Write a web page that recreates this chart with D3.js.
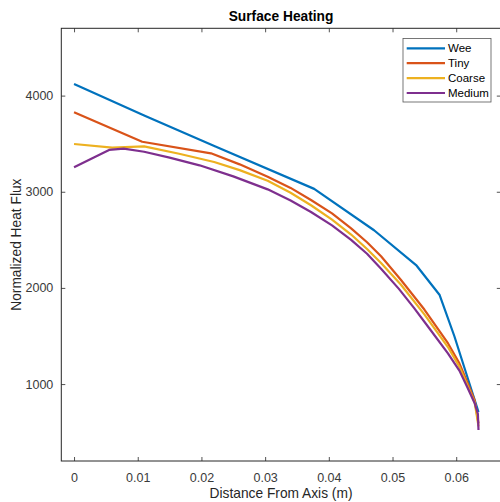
<!DOCTYPE html>
<html>
<head>
<meta charset="utf-8">
<script src="https://cdn.jsdelivr.net/npm/d3@7"></script>
<style>
  html, body { margin: 0; padding: 0; background: #fff; }
  svg { display: block; font-family: "Liberation Sans", Arial, Helvetica, sans-serif; }
</style>
</head>
<body>
<svg id="chart" width="500" height="502"></svg>
<script>
// ---- data ----
const seriesNames = ["Wee", "Tiny", "Coarse", "Medium"];
const seriesColors = ["#0072BD", "#D95319", "#EDB120", "#7E2F8E"];

const weeX = [0, 0.0111, 0.0222, 0.0377, 0.0471, 0.0537, 0.0574, 0.0597, 0.0635];
const weeY = [4120, 3790, 3470, 3030, 2600, 2238, 1926, 1500, 710];

const tinyX = [0, 0.0107, 0.0215, 0.026, 0.0304, 0.034, 0.0372, 0.0405, 0.0435, 0.046, 0.0482, 0.0513, 0.055, 0.0587, 0.0605, 0.0618, 0.0629, 0.0635];
const tinyY = [3826, 3520, 3400, 3285, 3157, 3040, 2914, 2775, 2620, 2475, 2330, 2085, 1775, 1425, 1215, 1010, 830, 590];

const coarseX = [0, 0.006, 0.011, 0.0165, 0.022, 0.026, 0.0304, 0.034, 0.0372, 0.0405, 0.0435, 0.046, 0.0482, 0.0513, 0.055, 0.0587, 0.0605, 0.0618, 0.0629, 0.0635];
const coarseY = [3497, 3460, 3472, 3395, 3310, 3225, 3115, 2990, 2860, 2710, 2555, 2405, 2260, 2035, 1725, 1385, 1180, 980, 810, 560];

const mediumX = [0, 0.0055, 0.0078, 0.011, 0.015, 0.0197, 0.025, 0.0304, 0.034, 0.0372, 0.0405, 0.0435, 0.046, 0.0482, 0.051, 0.0534, 0.056, 0.0587, 0.0605, 0.0618, 0.0629, 0.0634, 0.0635];
const mediumY = [3254, 3435, 3448, 3416, 3355, 3275, 3160, 3025, 2910, 2790, 2650, 2500, 2355, 2200, 1990, 1790, 1560, 1320, 1140, 960, 800, 690, 522];

const xTicks = [0, 0.01, 0.02, 0.03, 0.04, 0.05, 0.06];
const xTickLabels = ["0", "0.01", "0.02", "0.03", "0.04", "0.05", "0.06"];
const yTicks = [1000, 2000, 3000, 4000];
const yTickLabels = ["1000", "2000", "3000", "4000"];

const titleText = "Surface Heating";
const xLabelText = "Distance From Axis (m)";
const yLabelText = "Normalized Heat Flux";

// ---- layout ----
const svg = d3.select("#chart");
const L = 61.3, R = 500.8, T = 28.3, B = 461;
const axisColor = "#262626";
const tickLen = 4;

const x = d3.scaleLinear().domain([-0.002, 0.067]).range([L, R]);
const y = d3.scaleLinear().domain([200, 4700]).range([B, T]);

const series = [
  { name: seriesNames[0], xs: weeX, ys: weeY, color: seriesColors[0] },
  { name: seriesNames[1], xs: tinyX, ys: tinyY, color: seriesColors[1] },
  { name: seriesNames[2], xs: coarseX, ys: coarseY, color: seriesColors[2] },
  { name: seriesNames[3], xs: mediumX, ys: mediumY, color: seriesColors[3] }
];

// lines
const line = d3.line().x(d => x(d[0])).y(d => y(d[1]));
const plotG = svg.append("g");
series.forEach(s => {
  const pts = s.xs.map((v, i) => [v, s.ys[i]]);
  plotG.append("path")
    .attr("d", line(pts))
    .attr("fill", "none")
    .attr("stroke", s.color)
    .attr("stroke-width", 2.2)
    .attr("stroke-linejoin", "round");
});

// axes (box with inward ticks on all four sides)
const fmtX = d => xTickLabels[xTicks.indexOf(d)];
const fmtY = d => yTickLabels[yTicks.indexOf(d)];

const xAxisB = d3.axisBottom(x).tickValues(xTicks).tickFormat(fmtX).tickSizeInner(-tickLen).tickSizeOuter(0).tickPadding(12);
const xAxisT = d3.axisTop(x).tickValues(xTicks).tickFormat("").tickSizeInner(-tickLen).tickSizeOuter(0);
const yAxisL = d3.axisLeft(y).tickValues(yTicks).tickFormat(fmtY).tickSizeInner(-tickLen).tickSizeOuter(0).tickPadding(8);
const yAxisR = d3.axisRight(y).tickValues(yTicks).tickFormat("").tickSizeInner(-tickLen).tickSizeOuter(0);

function style(g) {
  g.select(".domain").remove();
  g.selectAll(".tick line").attr("stroke", axisColor).attr("stroke-width", 0.8);
  g.selectAll(".tick text").attr("fill", "#3a3a3a").style("font-size", "12.5px").style("font-family", '"Liberation Sans", Arial, sans-serif');
}
svg.append("g").attr("transform", `translate(0,${B})`).call(xAxisB).call(style);
svg.append("g").attr("transform", `translate(0,${T})`).call(xAxisT).call(style);
svg.append("g").attr("transform", `translate(${L},0)`).call(yAxisL).call(style);
svg.append("g").attr("transform", `translate(${R},0)`).call(yAxisR).call(style);

svg.append("rect")
  .attr("x", L).attr("y", T).attr("width", R - L).attr("height", B - T)
  .attr("fill", "none").attr("stroke", axisColor).attr("stroke-width", 1);

// title and labels
svg.append("text")
  .attr("x", (L + R) / 2).attr("y", 21)
  .attr("text-anchor", "middle")
  .attr("fill", "#000")
  .style("font-size", "13.75px").style("font-weight", "bold")
  .text(titleText);

svg.append("text")
  .attr("x", (L + R) / 2).attr("y", 498)
  .attr("text-anchor", "middle")
  .attr("fill", axisColor)
  .style("font-size", "13.75px")
  .text(xLabelText);

svg.append("text")
  .attr("transform", `translate(21,${(T + B) / 2}) rotate(-90)`)
  .attr("text-anchor", "middle")
  .attr("fill", axisColor)
  .style("font-size", "13.75px")
  .text(yLabelText);

// legend
const lgX = 403, lgY = 38.5, lgW = 88, lgH = 63.5;
const lg = svg.append("g");
lg.append("rect")
  .attr("x", lgX).attr("y", lgY).attr("width", lgW).attr("height", lgH)
  .attr("fill", "#fff").attr("stroke", "#555").attr("stroke-width", 0.8);
series.forEach((s, i) => {
  const cy = 48.3 + i * 14.9;
  lg.append("line")
    .attr("x1", 406.7).attr("x2", 445).attr("y1", cy).attr("y2", cy)
    .attr("stroke", s.color).attr("stroke-width", 2.2);
  lg.append("text")
    .attr("x", 448).attr("y", cy).attr("dy", "0.35em")
    .attr("fill", "#000")
    .style("font-size", "11.5px")
    .text(s.name);
});
</script>
</body>
</html>
